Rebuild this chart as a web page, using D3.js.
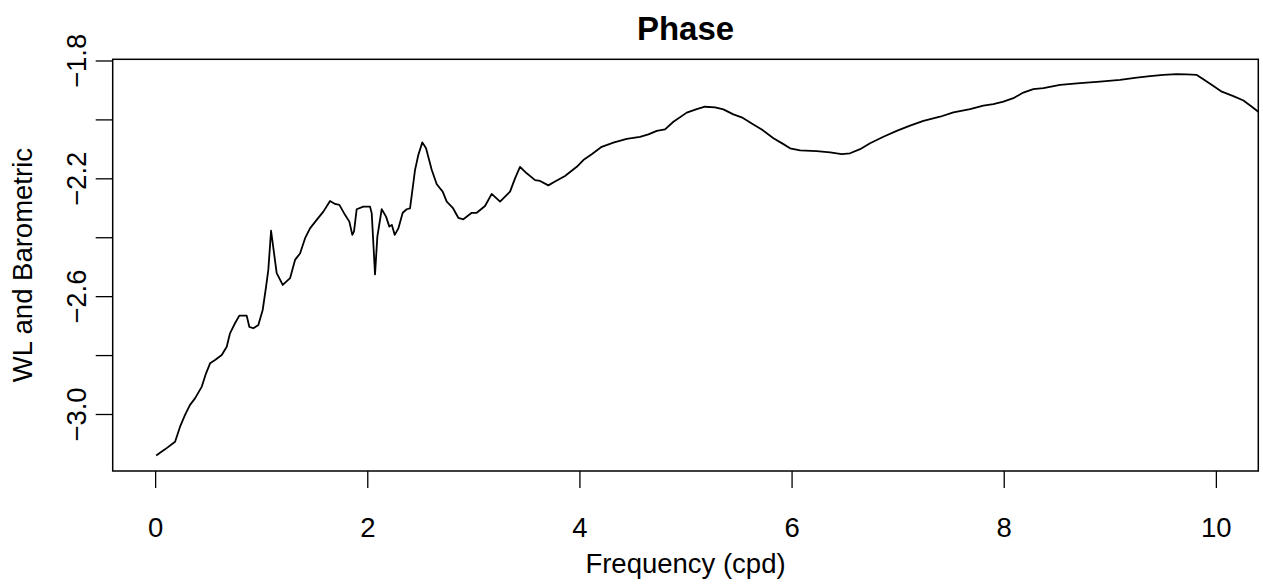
<!DOCTYPE html>
<html>
<head>
<meta charset="utf-8">
<script src="https://cdn.jsdelivr.net/npm/d3@7"></script>
<style>
  html, body { margin: 0; padding: 0; background: #fff; }
  svg { display: block; font-family: "Liberation Sans", Arial, Helvetica, sans-serif; }
</style>
</head>
<body>
<svg id="chart" width="1263" height="584"></svg>
<script>
// ---- data ----
const frequency = [
  0.01, 0.093, 0.188, 0.235, 0.282, 0.329, 0.376, 0.44, 0.48, 0.518,
  0.565, 0.628, 0.675, 0.706, 0.753, 0.794, 0.863, 0.888, 0.926, 0.973,
  1.014, 1.046, 1.067, 1.093, 1.146, 1.203, 1.272, 1.319, 1.366, 1.413,
  1.46, 1.523, 1.586, 1.649, 1.696, 1.737, 1.79, 1.831, 1.859, 1.875,
  1.9, 1.963, 2.026, 2.042, 2.073, 2.095, 2.136, 2.177, 2.208, 2.231,
  2.259, 2.293, 2.334, 2.372, 2.403, 2.45, 2.481, 2.519, 2.554, 2.608,
  2.655, 2.711, 2.749, 2.806, 2.858, 2.906, 2.985, 3.032, 3.11, 3.173,
  3.252, 3.346, 3.393, 3.44, 3.503, 3.582, 3.629, 3.707, 3.77, 3.864,
  3.975, 4.037, 4.116, 4.21, 4.32, 4.446, 4.571, 4.65, 4.729, 4.807,
  4.886, 5.012, 5.106, 5.184, 5.279, 5.357, 5.451, 5.53, 5.64, 5.719,
  5.829, 5.923, 5.986, 6.08, 6.237, 6.363, 6.473, 6.551, 6.646, 6.74,
  6.866, 6.991, 7.117, 7.243, 7.4, 7.526, 7.683, 7.808, 7.902, 7.997,
  8.091, 8.185, 8.279, 8.374, 8.531, 8.72, 8.908, 9.097, 9.254, 9.38,
  9.505, 9.631, 9.725, 9.82, 9.882, 9.977, 10.056, 10.165, 10.26, 10.339,
  10.4, 10.45
];
const phase = [
  -3.141, -3.120, -3.094, -3.043, -3.003, -2.969, -2.947, -2.907, -2.862, -2.828,
  -2.817, -2.800, -2.772, -2.726, -2.692, -2.666, -2.666, -2.704, -2.709, -2.698,
  -2.647, -2.568, -2.511, -2.378, -2.522, -2.562, -2.539, -2.477, -2.455, -2.404,
  -2.370, -2.341, -2.313, -2.277, -2.287, -2.290, -2.324, -2.347, -2.392, -2.380,
  -2.305, -2.296, -2.296, -2.319, -2.526, -2.398, -2.305, -2.330, -2.364, -2.358,
  -2.392, -2.370, -2.317, -2.305, -2.302, -2.172, -2.121, -2.078, -2.098, -2.172,
  -2.220, -2.245, -2.279, -2.300, -2.334, -2.339, -2.317, -2.317, -2.294, -2.253,
  -2.279, -2.245, -2.200, -2.161, -2.183, -2.206, -2.209, -2.224, -2.211, -2.192,
  -2.161, -2.138, -2.118, -2.093, -2.079, -2.066, -2.059, -2.051, -2.039, -2.034,
  -2.008, -1.977, -1.965, -1.957, -1.959, -1.966, -1.983, -1.993, -2.017, -2.034,
  -2.064, -2.084, -2.098, -2.105, -2.108, -2.112, -2.118, -2.115, -2.101, -2.081,
  -2.059, -2.039, -2.021, -2.005, -1.991, -1.976, -1.965, -1.953, -1.948, -1.940,
  -1.928, -1.909, -1.897, -1.894, -1.883, -1.877, -1.872, -1.866, -1.858, -1.853,
  -1.849, -1.846, -1.847, -1.849, -1.864, -1.887, -1.906, -1.921, -1.936, -1.957,
  -1.974, -1.990
];
const xTicks = [0, 2, 4, 6, 8, 10];
const yTicks = [-3.0, -2.8, -2.6, -2.4, -2.2, -2.0, -1.8];
const yTickLabels = ["\u22123.0", "", "\u22122.6", "", "\u22122.2", "", "\u22121.8"];
const title = "Phase";
const xLabel = "Frequency (cpd)";
const yLabel = "WL and Barometric";

// ---- layout ----
const plot = { left: 112.7, right: 1258.3, top: 59.3, bottom: 471 };
const fontSize = 27.5;

const svg = d3.select("#chart");

const x = d3.scaleLinear().domain([-0.4, 10.4]).range([plot.left, plot.right]);
const y = d3.scaleLinear().domain([-3.1935, -1.796]).range([plot.bottom, plot.top]);

// clip
svg.append("defs").append("clipPath").attr("id", "clip")
  .append("rect")
  .attr("x", plot.left).attr("y", plot.top)
  .attr("width", plot.right - plot.left).attr("height", plot.bottom - plot.top);

// line
const pts = frequency.map((f, i) => [f, phase[i]]);
svg.append("path")
  .datum(pts)
  .attr("clip-path", "url(#clip)")
  .attr("fill", "none")
  .attr("stroke", "#000")
  .attr("stroke-width", 1.8)
  .attr("stroke-linejoin", "round")
  .attr("d", d3.line().x(d => x(d[0])).y(d => y(d[1])));

// box
svg.append("rect")
  .attr("x", plot.left).attr("y", plot.top)
  .attr("width", plot.right - plot.left).attr("height", plot.bottom - plot.top)
  .attr("fill", "none").attr("stroke", "#000").attr("stroke-width", 1.5);

// x axis
const xAxis = svg.append("g")
  .attr("transform", `translate(0,${plot.bottom})`)
  .call(d3.axisBottom(x).tickValues(xTicks).tickSize(17).tickPadding(0).tickFormat(d3.format("d")));
xAxis.select(".domain").remove();
xAxis.selectAll("line").attr("stroke", "#000").attr("stroke-width", 1.3);
xAxis.selectAll("text")
  .attr("y", 66).attr("dy", null)
  .attr("font-size", fontSize).attr("fill", "#000")
  .style("font-family", "'Liberation Sans', Arial, sans-serif");

// y axis
const yAxis = svg.append("g")
  .attr("transform", `translate(${plot.left},0)`)
  .call(d3.axisLeft(y).tickValues(yTicks).tickSize(17)
    .tickFormat((d, i) => yTickLabels[i]));
yAxis.select(".domain").remove();
yAxis.selectAll("line").attr("stroke", "#000").attr("stroke-width", 1.3);
yAxis.selectAll(".tick text")
  .attr("x", null).attr("dy", null)
  .attr("text-anchor", "middle")
  .attr("transform", "translate(-27,0) rotate(-90)")
  .attr("font-size", fontSize).attr("fill", "#000")
  .style("font-family", "'Liberation Sans', Arial, sans-serif");

// labels
svg.append("text")
  .attr("x", (plot.left + plot.right) / 2).attr("y", 573)
  .attr("text-anchor", "middle").attr("font-size", fontSize)
  .text(xLabel);

svg.append("text")
  .attr("transform", `translate(32,${(plot.top + plot.bottom) / 2}) rotate(-90)`)
  .attr("text-anchor", "middle").attr("font-size", fontSize)
  .text(yLabel);

svg.append("text")
  .attr("x", (plot.left + plot.right) / 2).attr("y", 40)
  .attr("text-anchor", "middle").attr("font-size", 33)
  .attr("font-weight", "bold")
  .text(title);
</script>
</body>
</html>
